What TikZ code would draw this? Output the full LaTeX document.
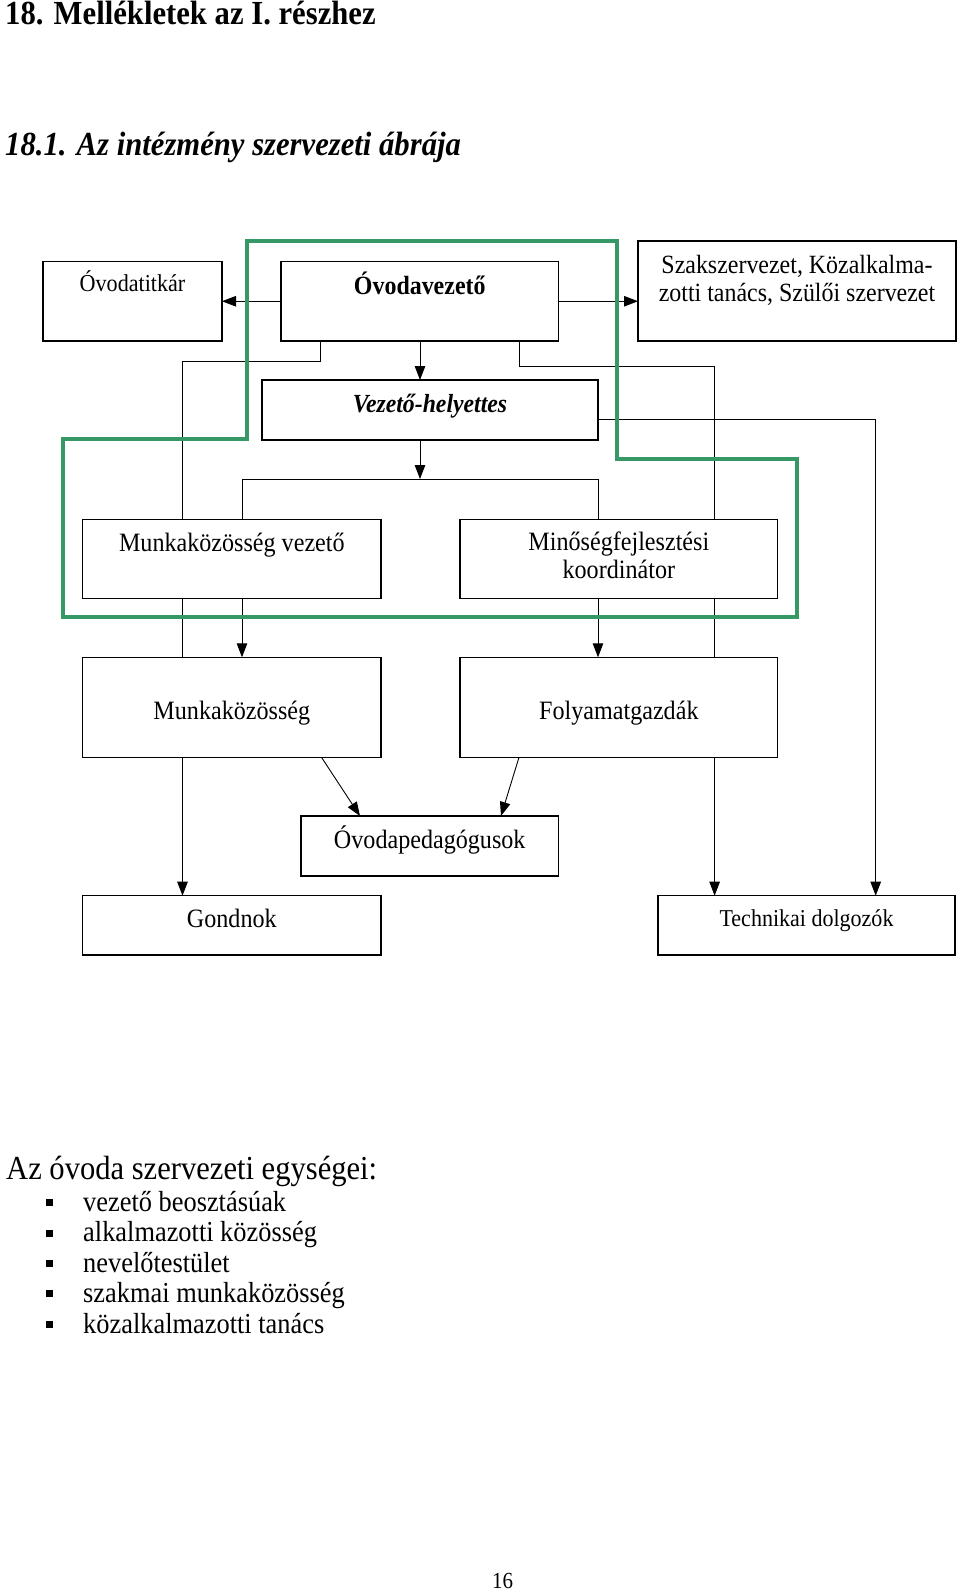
\documentclass[tikz,border=0pt]{standalone}
\usepackage{fontspec}
\setmainfont{Liberation Serif}[FakeStretch=0.91]
\usetikzlibrary{arrows.meta,backgrounds}
\definecolor{kzold}{RGB}{54,152,101}

\begin{document}
\begin{tikzpicture}[x=1pt,y=-1pt,
  box/.style={draw, line width=1.4pt, fill=white, inner sep=0pt, outer sep=0pt, anchor=north west},
  betu/.style={font=\fontsize{26.5}{28.5}\selectfont},
  kisbetu/.style={font=\fontsize{24.3}{28.4}\selectfont},
  nyil/.style={-{Triangle[length=14pt,width=10.5pt]}, line width=0.9pt},
  vonal/.style={line width=0.9pt},
  keret/.style={draw=kzold, line width=4pt}]
  \useasboundingbox (0,0) rectangle (960,1590);

  % cimek
  \node[anchor=base west, inner sep=0pt, font=\fontsize{33.7}{40}\selectfont\bfseries] (cim) at (5,24) {18. Mellékletek az I. részhez};
  \node[anchor=base west, inner sep=0pt, font=\fontsize{33.7}{40}\selectfont\bfseries\itshape] (alcim) at (5,155) {18.1. Az intézmény szervezeti ábrája};

  % dobozok
  \node[box, kisbetu, minimum width=179pt, text height=30pt, text depth=49.5pt] (titkar) at (43,261.5) {Óvodatitkár};
  \node[box, minimum width=277.5pt, text height=33pt, text depth=46.5pt, font=\fontsize{26.3}{28.5}\selectfont\bfseries] (vezeto) at (281,261.5) {Óvodavezető};
  \node[box, minimum width=318pt, text height=32.3pt, text depth=67.7pt, font=\fontsize{26.3}{28.4}\selectfont] (szak) at (638,241)
    {\begin{tabular}[t]{@{}c@{}}Szakszervezet, Közalkalma-\\zotti tanács, Szülői szervezet\end{tabular}};
  \node[box, minimum width=336pt, text height=32pt, text depth=28pt, font=\fontsize{26.1}{28.5}\selectfont\bfseries\itshape] (helyettes) at (262,380) {Vezető-helyettes};
  \node[box, betu, minimum width=298.3pt, text height=31.7pt, text depth=47.3pt] (mv) at (82.7,519.3) {Munkaközösség vezető};
  \node[box, betu, minimum width=317.7pt, text height=30.7pt, text depth=48.3pt] (mf) at (460,519.3)
    {\begin{tabular}[t]{@{}c@{}}Minőségfejlesztési\\koordinátor\end{tabular}};
  \node[box, betu, minimum width=298.3pt, text height=61.7pt, text depth=38.3pt] (munkak) at (82.7,657.3) {Munkaközösség};
  \node[box, betu, minimum width=317.7pt, text height=61.7pt, text depth=38.3pt] (folyamat) at (460,657.3) {Folyamatgazdák};
  \node[box, betu, minimum width=257.5pt, text height=32pt, text depth=28pt] (peda) at (301,816) {Óvodapedagógusok};
  \node[box, betu, minimum width=298.3pt, text height=31.3pt, text depth=28pt] (gondnok) at (82.7,895.7) {Gondnok};
  \node[box, minimum width=297pt, text height=30.3pt, text depth=29pt, font=\fontsize{24.2}{28}\selectfont] (techn) at (658,895.7) {Technikai dolgozók};

  \coordinate (kL) at (182.5,361);
  \coordinate (kR) at (714.6,366);
  \coordinate (kT) at (875.7,419.5);
  \coordinate (eloszt) at (420,479);
  \coordinate (elL) at (242,479);
  \coordinate (elR) at (598,479);

  \begin{pgfonlayer}{background}
    \draw[nyil] (vezeto.west) -- (titkar.east);
    \draw[nyil] (vezeto.east) -- (vezeto.east -| szak.west);
    \draw[nyil] (eloszt |- vezeto.south) -- (eloszt |- helyettes.north);
    \draw[nyil] (eloszt |- helyettes.south) -- (eloszt);
    \draw[vonal] (elL |- mv.north) -- (elL) -- (elR) -- (elR |- mf.north);
    \draw[nyil] (320,0 |- vezeto.south) |- (kL) -- (kL |- gondnok.north);
    \draw[nyil] (519,0 |- vezeto.south) |- (kR) -- (kR |- techn.north);
    \draw[nyil] (kT -| helyettes.east) -- (kT) -- (kT |- techn.north);
    \draw[nyil] (elL |- mv.south) -- (elL |- munkak.north);
    \draw[nyil] (elR |- mf.south) -- (elR |- folyamat.north);
    \draw[nyil] (321.5,0 |- munkak.south) -- (360,0 |- peda.north);
    \draw[nyil] (519,0 |- folyamat.south) -- (501,0 |- peda.north);
  \end{pgfonlayer}

  % vezetoi kor
  \draw[keret] (246.5,241) -- (617,241) -- (617,458.5) -- (796.5,458.5) -- (796.5,617) -- (63,617) -- (63,438.5) -- (246.5,438.5) -- cycle;

  % egysegek
  \node[anchor=base west, inner sep=0pt, font=\fontsize{33.6}{38}\selectfont] (egysegek) at (6,1179) {Az óvoda szervezeti egységei:};
  \foreach \szoveg [count=\i] in {vezető beosztásúak, alkalmazotti közösség, nevelőtestület, szakmai munkaközösség, közalkalmazotti tanács}{
    \node[anchor=base west, inner sep=0pt, font=\fontsize{29}{32}\selectfont] (tetel\i) at (83,1181.1+30.4*\i) {\szoveg};
    \fill (46,1168.8+30.4*\i) rectangle +(7,7);
  }

  \node[anchor=base, inner sep=0pt, font=\fontsize{23}{26}\selectfont] (oldalszam) at (502.5,1588) {16};
\end{tikzpicture}
\end{document}
